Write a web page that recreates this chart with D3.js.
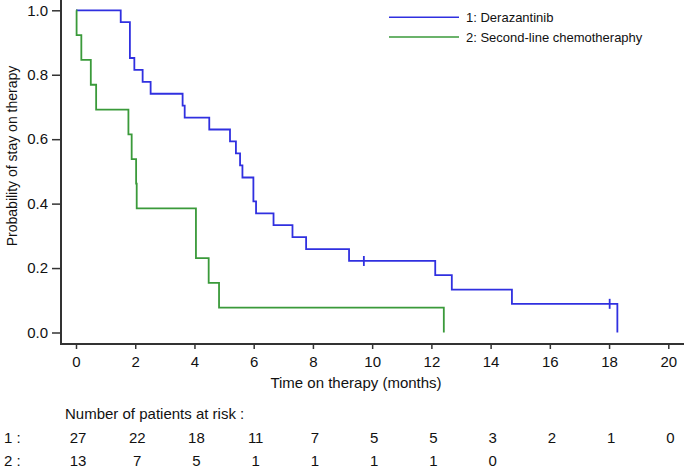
<!DOCTYPE html>
<html><head><meta charset="utf-8">
<script src="https://cdn.jsdelivr.net/npm/d3@7"></script>
<style>body{margin:0;background:#fff}svg{display:block;font-family:"Liberation Sans",Arial,sans-serif}</style>
</head><body><svg id="c" width="685" height="469"></svg>
<script>
// Kaplan-Meier step data: [time (months), survival after step]
const seriesNames = ["1: Derazantinib", "2: Second-line chemotheraphy"];
const deraSteps = [[0,1.0],[1.51,0.963],[1.82,0.852],[1.97,0.815],[2.25,0.778],[2.52,0.741],[3.6,0.704],[3.67,0.667],[4.5,0.630],[5.2,0.593],[5.4,0.556],[5.54,0.519],[5.62,0.481],[5.99,0.407],[6.08,0.370],[6.67,0.333],[7.31,0.296],[7.77,0.259],[9.22,0.222],[12.13,0.178],[12.69,0.133],[14.72,0.089],[18.28,0.0]];
const deraCensor = [[9.72,0.222],[18.02,0.089]];
const chemoSteps = [[0,1.0],[0.02,0.923],[0.18,0.846],[0.5,0.769],[0.68,0.692],[1.77,0.615],[1.88,0.538],[2.03,0.462],[2.05,0.385],[4.05,0.231],[4.48,0.154],[4.83,0.077],[12.42,0.0]];
const chemoCensor = [];
const xTicks = [0,2,4,6,8,10,12,14,16,18,20];
const yTicks = [0,0.2,0.4,0.6,0.8,1.0];
const riskLabels = ["1 :", "2 :"];
const riskDera = [27,22,18,11,7,5,5,3,2,1,0];
const riskChemo = [13,7,5,1,1,1,1,0];
const colors = ["#3030e0", "#3a9a3a"];

const svg = d3.select("#c");
const x = d3.scaleLinear().domain([0,20]).range([76,668.3]);
const y = d3.scaleLinear().domain([0,1]).range([332.5,10.3]);
const axisColor = "#333";
const FONT = "Liberation Sans, Arial, sans-serif";

// Axes
const gx = svg.append("g").attr("transform","translate(0,344)")
  .call(d3.axisBottom(x).tickValues(xTicks).tickSize(5).tickPadding(7).tickFormat(d3.format("d")));
gx.select(".domain").attr("d","M60,0H684");
const gy = svg.append("g").attr("transform","translate(61,0)")
  .call(d3.axisLeft(y).tickValues(yTicks).tickSize(9).tickPadding(4).tickFormat(d3.format(".1f")));
gy.select(".domain").attr("d","M0,0V345");
[gx,gy].forEach(g=>{
  g.selectAll(".domain").attr("stroke",axisColor).attr("stroke-width",2);
  g.selectAll(".tick line").attr("stroke",axisColor).attr("stroke-width",1.5);
  g.selectAll(".tick text").attr("fill","#111").style("font-size","15px").style("font-family",FONT);
});
gx.selectAll(".tick text").attr("dy","0.75em");

// Curves
const line = d3.line().x(d=>x(d[0])).y(d=>y(d[1])).curve(d3.curveStepAfter);
function draw(steps, censor, color){
  svg.append("path").datum(steps).attr("d",line).attr("fill","none")
    .attr("stroke",color).attr("stroke-width",1.8);
  svg.selectAll(null).data(censor).enter().append("line")
    .attr("x1",d=>x(d[0])).attr("x2",d=>x(d[0]))
    .attr("y1",d=>y(d[1])-5).attr("y2",d=>y(d[1])+5)
    .attr("stroke",color).attr("stroke-width",1.8);
}
draw(deraSteps, deraCensor, colors[0]);
draw(chemoSteps, chemoCensor, colors[1]);

// Legend
seriesNames.forEach((n,i)=>{
  const ly = 17.3 + i*19.7;
  svg.append("line").attr("x1",389).attr("x2",459).attr("y1",ly).attr("y2",ly)
    .attr("stroke",colors[i]).attr("stroke-width",1.6);
  svg.append("text").attr("x",466).attr("y",ly).attr("dy","0.35em")
    .style("font-size","13px").attr("fill","#111").text(n);
});

// Axis titles
svg.append("text").attr("x",356).attr("y",383).attr("dy","0.35em").attr("text-anchor","middle")
  .style("font-size","15px").attr("fill","#111").text("Time on therapy (months)");
svg.append("text").attr("transform","translate(12,156) rotate(-90)").attr("dy","0.35em")
  .attr("text-anchor","middle").style("font-size","14px").attr("fill","#111").text("Probability of stay on therapy");

// Risk table
svg.append("text").attr("x",65).attr("y",414).attr("dy","0.35em")
  .style("font-size","15px").attr("fill","#111").text("Number of patients at risk :");
[riskDera, riskChemo].forEach((row,i)=>{
  const ry = 438 + i*23;
  svg.append("text").attr("x",4).attr("y",ry).attr("dy","0.35em")
    .style("font-size","15px").attr("fill","#111").text(riskLabels[i]);
  svg.selectAll(null).data(row).enter().append("text")
    .attr("x",(d,j)=>x(xTicks[j])+2).attr("y",ry).attr("dy","0.35em").attr("text-anchor","middle")
    .style("font-size","15px").attr("fill","#111").text(d=>d);
});
</script></body></html>
